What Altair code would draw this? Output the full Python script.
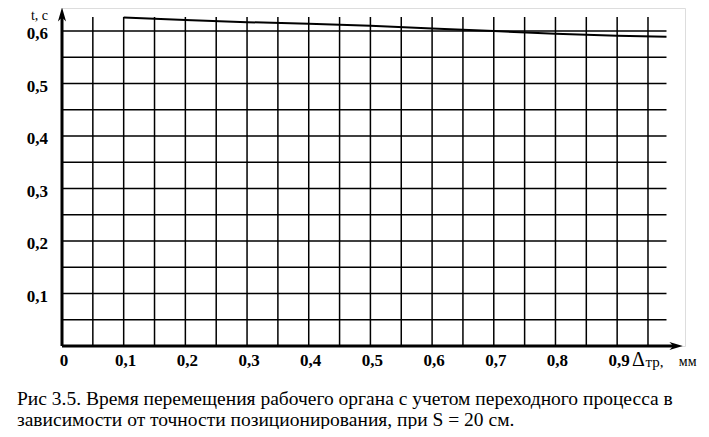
import altair as alt
import pandas as pd

# ---- data ----
delta_tr = [0.1, 0.2, 0.3, 0.4, 0.5, 0.6, 0.7, 0.8, 0.9, 0.98]
t_sec = [0.626, 0.621, 0.617, 0.614, 0.610, 0.605, 0.600, 0.595, 0.591, 0.589]

x_ticks = [0.0, 0.1, 0.2, 0.3, 0.4, 0.5, 0.6, 0.7, 0.8, 0.9]
x_labels = ["0", "0,1", "0,2", "0,3", "0,4", "0,5", "0,6", "0,7", "0,8", "0,9"]
y_ticks = [0.1, 0.2, 0.3, 0.4, 0.5, 0.6]
y_labels = ["0,1", "0,2", "0,3", "0,4", "0,5", "0,6"]

x_grid = [0.05, 0.1, 0.15, 0.2, 0.25, 0.3, 0.35, 0.4, 0.45, 0.5,
          0.55, 0.6, 0.65, 0.7, 0.75, 0.8, 0.85, 0.9, 0.95]
y_grid = [0.05, 0.1, 0.15, 0.2, 0.25, 0.3, 0.35, 0.4, 0.45, 0.5, 0.55, 0.6]

caption = [
    "Рис 3.5. Время перемещения рабочего органа с учетом переходного процесса в",
    "зависимости от точности позиционирования, при S = 20 см.",
]

xs = alt.Scale(domain=[0, 1.01], nice=False, zero=False)
ys = alt.Scale(domain=[0, 0.644], nice=False, zero=False)

SERIF = "Liberation Serif"

curve_df = pd.DataFrame({"x": delta_tr, "t": t_sec})
xt_df = pd.DataFrame({"x": x_ticks, "lab": x_labels})
yt_df = pd.DataFrame({"y": y_ticks, "lab": y_labels})
xg_df = pd.DataFrame({"x": x_grid})
yg_df = pd.DataFrame({"y": y_grid})

vgrid = alt.Chart(xg_df).mark_rule(color="black", strokeWidth=1.5).encode(
    x=alt.X("x:Q", scale=xs, axis=None),
    y=alt.Y(datum=0, scale=ys, axis=None),
    y2=alt.Y2(datum=0.627),
)
hgrid = alt.Chart(yg_df).mark_rule(color="black", strokeWidth=1.5).encode(
    y=alt.Y("y:Q", scale=ys, axis=None),
    x=alt.X(datum=0, scale=xs, axis=None),
    x2=alt.X2(datum=0.98),
)
x_axis = alt.Chart().mark_rule(color="black", strokeWidth=3).encode(
    x=alt.X(datum=0, scale=xs, axis=None),
    x2=alt.X2(datum=0.995),
    y=alt.Y(datum=0, scale=ys, axis=None),
)
y_axis = alt.Chart().mark_rule(color="black", strokeWidth=3).encode(
    y=alt.Y(datum=0, scale=ys, axis=None),
    y2=alt.Y2(datum=0.63),
    x=alt.X(datum=0, scale=xs, axis=None),
)
ARROW = "M0,-1L0.55,0.9L0,0.35L-0.55,0.9Z"
y_arrow = alt.Chart().mark_point(shape=ARROW, filled=True, color="black",
                                 size=220, opacity=1).encode(
    x=alt.X(datum=0, scale=xs, axis=None),
    y=alt.Y(datum=0.631, scale=ys, axis=None),
)
x_arrow = alt.Chart().mark_point(shape=ARROW, filled=True, color="black",
                                 size=200, angle=90, opacity=1).encode(
    x=alt.X(datum=0.995, scale=xs, axis=None),
    y=alt.Y(datum=0, scale=ys, axis=None),
)
line = alt.Chart(curve_df).mark_line(color="black", strokeWidth=2).encode(
    x=alt.X("x:Q", scale=xs, axis=None),
    y=alt.Y("t:Q", scale=ys, axis=None),
)
xlab = alt.Chart(xt_df).mark_text(font=SERIF, fontWeight="bold", fontSize=17,
                                  dy=15, dx=2, baseline="middle", color="black").encode(
    x=alt.X("x:Q", scale=xs, axis=None),
    y=alt.Y(datum=0, scale=ys, axis=None),
    text="lab:N",
)
ylab = alt.Chart(yt_df).mark_text(font=SERIF, fontWeight="bold", fontSize=17,
                                  dx=-14, dy=3, align="right", baseline="middle",
                                  color="black").encode(
    y=alt.Y("y:Q", scale=ys, axis=None),
    x=alt.X(datum=0, scale=xs, axis=None),
    text="lab:N",
)
t_title = alt.Chart().mark_text(text="t,  с", font=SERIF, fontSize=14,
                                dx=-14, align="right", baseline="top",
                                color="black").encode(
    x=alt.X(datum=0, scale=xs, axis=None),
    y=alt.Y(datum=0.642, scale=ys, axis=None),
)
delta_t = alt.Chart().mark_text(text="Δ", font=SERIF, fontSize=20, dy=14,
                                align="left", baseline="middle", color="black").encode(
    x=alt.X(datum=0.924, scale=xs, axis=None),
    y=alt.Y(datum=0, scale=ys, axis=None),
)
tr_t = alt.Chart().mark_text(text="тр,", font=SERIF, fontSize=15, dy=16,
                             align="left", baseline="middle", color="black").encode(
    x=alt.X(datum=0.946, scale=xs, axis=None),
    y=alt.Y(datum=0, scale=ys, axis=None),
)
mm_t = alt.Chart().mark_text(text="мм", font=SERIF, fontSize=14, dy=16,
                             align="left", baseline="middle", color="black").encode(
    x=alt.X(datum=1.0, scale=xs, axis=None),
    y=alt.Y(datum=0, scale=ys, axis=None),
)

chart = alt.layer(
    vgrid, hgrid, line, x_axis, y_axis, y_arrow, x_arrow,
    xlab, ylab, t_title, delta_t, tr_t, mm_t,
).properties(
    width=623,
    height=338,
    padding={"left": 54, "top": 0, "right": 16, "bottom": 83},
    autosize=alt.AutoSizeParams(type="none"),
    title=alt.TitleParams(
        text=caption,
        orient="bottom",
        anchor="start",
        frame="group",
        dx=-45,
        offset=20,
        font=SERIF,
        fontSize=19.5,
        fontWeight="normal",
        lineHeight=21,
        color="black",
    ),
).configure_view(stroke=None).configure(background="white")

chart.save("out.html", embed_options={"renderer": "svg", "actions": False})
